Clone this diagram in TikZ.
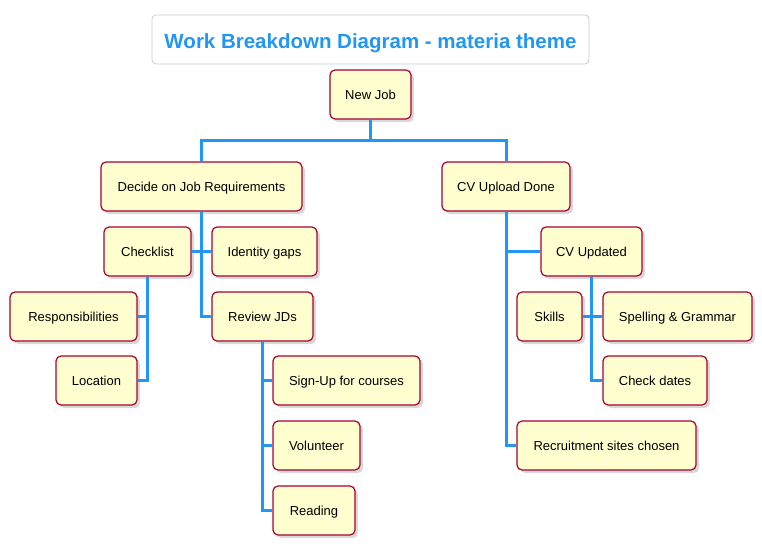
\documentclass[tikz,border=0pt]{standalone}
\usepackage{fontspec}
\setmainfont{Liberation Sans}
\usetikzlibrary{positioning}
\usetikzlibrary{shadows}
\definecolor{boxfill}{HTML}{FEFECE}
\definecolor{boxline}{HTML}{A80036}
\definecolor{wire}{HTML}{2196F3}
\definecolor{frame}{HTML}{C8C8C8}
\begin{document}
\begin{tikzpicture}[
	x=1pt,y=-1pt,
	task/.style={draw=boxline, fill=boxfill, line width=1.2pt, rounded corners=5pt,
		inner sep=0pt, minimum height=49pt, text height=9.3pt, text depth=0pt,
		font=\fontsize{13}{15}\selectfont,
		drop shadow={shadow xshift=3pt, shadow yshift=-3pt, fill=black!30, opacity=0.5}},
	conn/.style={draw=wire, line width=3pt}
]
	\useasboundingbox (0,0) rectangle (762,544);
	% title
	\node[draw=frame, line width=0.8pt, rounded corners=4pt, minimum width=437pt,
		minimum height=49pt, inner sep=0pt] (title) at (370.5,39.5) {};
	\node[text=wire, font=\fontsize{20.5}{24}\selectfont\bfseries] (ttext) at (370.5,43)
		{Work Breakdown Diagram - materia theme};

	% tasks
	\node[task, minimum width=81pt] (nj) at (370.5,94.5) {New Job};
	\node[task, minimum width=201pt] (dec) at (201.5,186.5) {Decide on Job Requirements};
	\node[task, minimum width=128pt] (cvu) at (506,186.5) {CV Upload Done};
	\node[task, minimum width=87pt] (chk) at (147.5,251.5) {Checklist};
	\node[task, minimum width=105pt] (gap) at (264.5,251.5) {Identity gaps};
	\node[task, minimum width=101pt] (rev) at (262.5,316.5) {Review JDs};
	\node[task, minimum width=127pt] (resp) at (73.5,316.5) {Responsibilities};
	\node[task, minimum width=81pt] (loc) at (96.5,380.5) {Location};
	\node[task, minimum width=147pt] (sign) at (346.5,380.5) {Sign-Up for courses};
	\node[task, minimum width=87pt] (vol) at (316.5,445.5) {Volunteer};
	\node[task, minimum width=82pt] (read) at (314,510.5) {Reading};
	\node[task, minimum width=101pt] (cvd) at (591.5,251.5) {CV Updated};
	\node[task, minimum width=65pt] (skl) at (549.5,316.5) {Skills};
	\node[task, minimum width=149pt] (spg) at (677.5,316.5) {Spelling \& Grammar};
	\node[task, minimum width=104pt] (chd) at (655,380.5) {Check dates};
	\node[task, minimum width=179pt] (rec) at (606.5,445.5) {Recruitment sites chosen};

	% connectors
	\draw[conn] (nj.south) -- ++(0,21) coordinate (split);
	\draw[conn] (dec.north) |- (split) -| (cvu.north);
	\draw[conn] (dec.south) |- (rev.west);
	\draw[conn] (chk.east) -- (gap.west);
	\draw[conn] (chk.south) |- (loc.east);
	\draw[conn] (chk.south |- resp.east) -- (resp.east);
	\draw[conn] (rev.south) |- (read.west);
	\draw[conn] (rev.south |- sign.west) -- (sign.west);
	\draw[conn] (rev.south |- vol.west) -- (vol.west);
	\draw[conn] (cvu.south) |- (rec.west);
	\draw[conn] (cvu.south |- cvd.west) -- (cvd.west);
	\draw[conn] (cvd.south) |- (chd.west);
	\draw[conn] (skl.east) -- (spg.west);
\end{tikzpicture}
\end{document}
